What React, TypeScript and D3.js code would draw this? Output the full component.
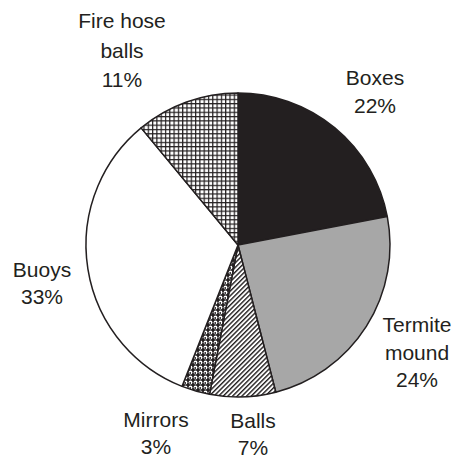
import React from "react";
import * as d3 from "d3";

const categories = ["Boxes", "Termite mound", "Balls", "Mirrors", "Buoys", "Fire hose balls"];
const percents = [22, 24, 7, 3, 33, 11];
const labelLines = [["Boxes", "22%"], ["Termite", "mound", "24%"], ["Balls", "7%"], ["Mirrors", "3%"], ["Buoys", "33%"], ["Fire hose", "balls", "11%"]];

// label anchors (center x, first baseline y, line spacing)
const labelAnchors = [
  { x: 375, y: 85, dy: 28 },
  { x: 417, y: 332, dy: 27.5 },
  { x: 253, y: 428, dy: 26.5 },
  { x: 156, y: 427, dy: 27 },
  { x: 42, y: 277, dy: 27 },
  { x: 122, y: 28, dy: 29.5 },
];

const fills = ["#231f20", "#a7a7a7", "url(#diag)", "url(#bubbles)", "#ffffff", "url(#grid)"];

const W = 453, H = 459;
const cx = 238, cy = 245, R = 152;

export default function App() {
  const pie = d3.pie<number>().sort(null).value((d) => d).startAngle(0).endAngle(2 * Math.PI);
  const arcs = pie(percents);
  const arc = d3.arc<d3.PieArcDatum<number>>().innerRadius(0).outerRadius(R);
  return (
    <svg width={W} height={H} style={{ position: "absolute", left: 0, top: 0, background: "#fff" }}>
      <defs>
        <pattern id="grid" width={4.3} height={4.3} patternUnits="userSpaceOnUse">
          <rect width={4.3} height={4.3} fill="#fff" />
          <line x1={0.6} y1={0} x2={0.6} y2={4.3} stroke="#231f20" strokeWidth={1.2} />
          <line x1={0} y1={0.6} x2={4.3} y2={0.6} stroke="#231f20" strokeWidth={1.2} />
        </pattern>
        <pattern id="diag" width={3.3} height={10} patternUnits="userSpaceOnUse" patternTransform="rotate(45)">
          <rect width={3.3} height={10} fill="#fff" />
          <line x1={0.7} y1={0} x2={0.7} y2={10} stroke="#231f20" strokeWidth={1.4} />
        </pattern>
        <pattern id="bubbles" width={5} height={5} patternUnits="userSpaceOnUse">
          <rect width={5} height={5} fill="#231f20" />
          <circle cx={2.5} cy={2.5} r={1.9} fill="#fff" />
          <circle cx={2.2} cy={3.0} r={0.9} fill="#231f20" />
        </pattern>
      </defs>
      <g transform={`translate(${cx},${cy})`}>
        {arcs.map((a, i) => (
          <path key={categories[i]} d={arc(a) || ""} fill={fills[i]} stroke="#231f20" strokeWidth={1.5} strokeLinejoin="round" />
        ))}
      </g>
      <g fontFamily="Liberation Sans, Arial, sans-serif" fontSize={21} fill="#231f20" textAnchor="middle">
        {labelLines.map((lines, i) => (
          <text key={categories[i]} x={labelAnchors[i].x} y={labelAnchors[i].y}>
            {lines.map((ln, j) => (
              <tspan key={j} x={labelAnchors[i].x} y={labelAnchors[i].y + j * labelAnchors[i].dy}>{ln}</tspan>
            ))}
          </text>
        ))}
      </g>
    </svg>
  );
}
